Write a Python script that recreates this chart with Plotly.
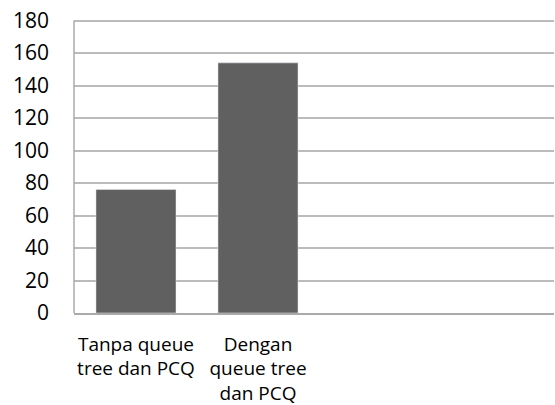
import plotly.graph_objects as go

categories = ["Tanpa queue<br>tree dan PCQ", "Dengan<br>queue tree<br>dan PCQ"]
values = [76, 154]
y_ticks = [0, 20, 40, 60, 80, 100, 120, 140, 160, 180]

x_pos = list(range(len(categories)))

fig = go.Figure(go.Bar(x=x_pos, y=values, marker_color="#606060", width=0.656))

fig.update_layout(
    width=555, height=405,
    margin=dict(l=74, r=1, t=19, b=92, autoexpand=False),
    paper_bgcolor="white", plot_bgcolor="white",
    font=dict(family="Open Sans, Liberation Sans, sans-serif", color="#000000"),
    showlegend=False,
)
fig.update_xaxes(
    range=[-0.508, 3.426], tickvals=x_pos, ticktext=categories,
    showgrid=False, showline=True, linecolor="#aaaaaa", linewidth=1.5,
    ticks="", tickfont=dict(size=19), ticklabelstandoff=13, zeroline=False,
    tickangle=0, automargin=False,
)
fig.update_yaxes(
    range=[0, 181], tickvals=y_ticks, showgrid=True, gridcolor="#bbbbbb",
    gridwidth=1.5, showline=False, zeroline=False,
    ticks="", tickfont=dict(size=21), ticklabelstandoff=24,
    automargin=False,
)
# left axis line only up to the 180 gridline, as in the reference
fig.add_shape(type="line", xref="paper", yref="y", x0=0, x1=0, y0=0, y1=180,
              line=dict(color="#aaaaaa", width=1.5))

fig.write_html("out.html", post_script="document.body.style.margin='0';",
               config={"displayModeBar": False})
